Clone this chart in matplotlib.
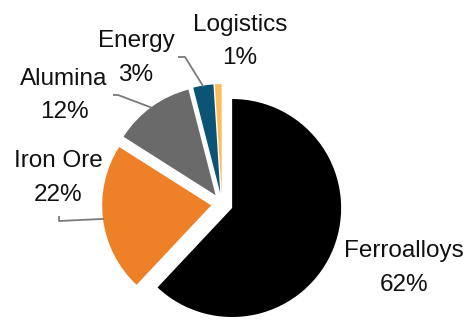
import numpy as np
import matplotlib
matplotlib.use("Agg")
import matplotlib.pyplot as plt

# Revenue split by segment
segments = ["Ferroalloys", "Iron Ore", "Alumina", "Energy", "Logistics"]
shares = [62, 22, 12, 3, 1]
colors = ["#000000", "#EE8027", "#6A6A6A", "#0C5475", "#FDBD5C"]

W, H = 471, 320
CX, CY, R = 222, 204, 109          # pie centre and radius in pixels
EXPLODE = 0.1


def px(x, y):
    """Pixel position (from top-left) to data coordinates."""
    return (x - CX) / R, (CY - y) / R


fig = plt.figure(figsize=(W / 100, H / 100), dpi=100)
ax = fig.add_axes([0, 0, 1, 1])

wedges, _ = ax.pie(shares, colors=colors, startangle=90, counterclock=False,
                   explode=[EXPLODE] * len(shares), radius=1.0, center=(0, 0),
                   wedgeprops=dict(linewidth=0))
ax.set_xlim(-CX / R, (W - CX) / R)
ax.set_ylim(-(H - CY) / R, CY / R)
ax.set_aspect("auto")
ax.axis("off")

# label layout: centre x, name baseline y, percent baseline y (pixels)
label_pos = {
    "Ferroalloys": (404, 257, 291),
    "Iron Ore": (58, 167, 201),
    "Alumina": (64, 85, 118),
    "Energy": (136, 47, 81),
    "Logistics": (240, 31, 64),
}
# leader elbows (pixels): start point and elbow, ending on the wedge
leaders = {
    "Iron Ore": [(59, 216), (59, 221)],
    "Alumina": [(113, 95), (118, 95)],
    "Energy": [(178, 57), (185, 57)],
}

font = dict(family=["Liberation Sans", "DejaVu Sans"], fontsize=17.5,
            color="#111111")

for w, name, val in zip(wedges, segments, shares):
    cx_s, cy_s = px(*label_pos[name][:2])
    _, pb = px(0, label_pos[name][2])
    ax.text(cx_s, cy_s, name, ha="center", va="baseline", **font)
    ax.text(cx_s, pb, f"{val}%", ha="center", va="baseline", **font)
    if name in leaders:
        mid = np.deg2rad((w.theta1 + w.theta2) / 2)
        cx0, cy0 = w.center
        end = (cx0 + 0.99 * np.cos(mid), cy0 + 0.99 * np.sin(mid))
        pts = [px(*p) for p in leaders[name]] + [end]
        xs, ys = zip(*pts)
        ax.plot(xs, ys, color="#7A7A7A", lw=1.3, solid_capstyle="butt")

fig.savefig("out.png", dpi=100, facecolor="white")
